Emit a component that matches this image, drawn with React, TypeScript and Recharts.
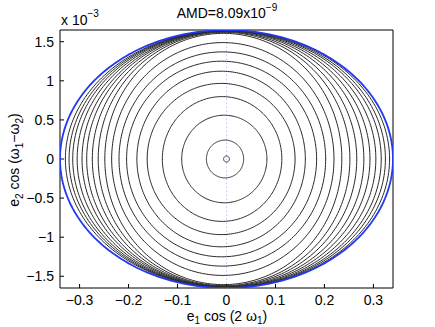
import { ScatterChart, Scatter, XAxis, YAxis, ReferenceLine, Customized } from 'recharts';

const xTicks = [-0.3, -0.2, -0.1, 0, 0.1, 0.2, 0.3];
const yTicks = [-1.5, -1, -0.5, 0, 0.5, 1, 1.5];

// level curves: half-width along e1 cos(2w1), half-height along e2 cos(w1-w2) (x 1e-3), centre shift
const ringA = [0.038, 0.087, 0.122, 0.151, 0.172, 0.194, 0.211, 0.227, 0.242, 0.257, 0.27, 0.283, 0.294, 0.305, 0.315, 0.323, 0.331];
const ringB = [0.242, 0.56, 0.798, 0.967, 1.123, 1.251, 1.37, 1.489, 1.607, 1.62, 1.628, 1.634, 1.638, 1.641, 1.643, 1.645, 1.646];
const ringCx = [-0.003, -0.0045, -0.009, -0.011, -0.011, -0.01, -0.0085, -0.0075, -0.0065, -0.005, -0.004, -0.0025, -0.001, 0, 0.001, 0.0015, 0.002];

// AMD boundary and the fixed point marker
const bound = { a: 0.34, b: 1.65 };
const fixedPt = { a: 0.006, b: 0.038 };

const outline = (cx: number, a: number, b: number) =>
  Array.from({ length: 241 }, (_, i) => {
    const t = (i / 240) * 2 * Math.PI;
    return { x: cx + a * Math.cos(t), y: b * Math.sin(t) };
  });

const fmt = (v: number) => String(v).replace('-', '\u2212');
const font = '"Liberation Sans", Arial, sans-serif';
const noDot = () => <g />;

function Texts() {
  return (
    <g fontFamily={font} fill="#000">
      <text x={227} y={18} fontSize={14} textAnchor="middle">
        <tspan>AMD=8.09x10</tspan>
        <tspan dy={-7} fontSize={10}>{'\u22129'}</tspan>
      </text>
      <text x={61} y={25} fontSize={14}>
        <tspan>x 10</tspan>
        <tspan dy={-8} fontSize={10}>{'\u22123'}</tspan>
      </text>
      <text x={227} y={321} fontSize={14} textAnchor="middle">
        <tspan>e</tspan>
        <tspan dy={3} fontSize={10}>1</tspan>
        <tspan dy={-3}> cos (2 ω</tspan>
        <tspan dy={3} fontSize={10}>1</tspan>
        <tspan dy={-3}>)</tspan>
      </text>
      <text x={19} y={160} fontSize={14} textAnchor="middle" transform="rotate(-90 19 160)">
        <tspan>e</tspan>
        <tspan dy={4} fontSize={10}>2</tspan>
        <tspan dy={-4}> cos (ω</tspan>
        <tspan dy={4} fontSize={10}>1</tspan>
        <tspan dy={-4}>{'\u2212ω'}</tspan>
        <tspan dy={4} fontSize={10}>2</tspan>
        <tspan dy={-4}>)</tspan>
      </text>
    </g>
  );
}

export default function App() {
  const tickStyle = { fontSize: 14, fontFamily: font, fill: '#000' };
  return (
    <div style={{ position: 'absolute', left: 0, top: 0, background: '#fff' }}>
      <ScatterChart width={435} height={327} margin={{ top: 25, right: 37, left: 20, bottom: 9 }}>
        <XAxis
          type="number"
          dataKey="x"
          domain={[-bound.a, bound.a]}
          ticks={xTicks}
          allowDataOverflow
          height={30}
          tickSize={-4}
          tickMargin={11}
          tickFormatter={fmt}
          tick={tickStyle}
          stroke="#000"
        />
        <XAxis
          xAxisId="top"
          orientation="top"
          type="number"
          domain={[-bound.a, bound.a]}
          ticks={xTicks}
          allowDataOverflow
          height={5}
          tickSize={-4}
          tick={false}
          stroke="#000"
        />
        <YAxis
          type="number"
          dataKey="y"
          domain={[-bound.b, bound.b]}
          ticks={yTicks}
          allowDataOverflow
          width={40}
          tickSize={-4}
          tickMargin={10}
          tickFormatter={fmt}
          tick={tickStyle}
          stroke="#000"
        />
        <YAxis
          yAxisId="right"
          orientation="right"
          type="number"
          domain={[-bound.b, bound.b]}
          ticks={yTicks}
          allowDataOverflow
          width={5}
          tickSize={-4}
          tick={false}
          stroke="#000"
        />
        <ReferenceLine x={0} stroke="#c3c9f6" strokeDasharray="1.5 2.5" />
        {ringA.map((a, i) => (
          <Scatter
            key={i}
            data={outline(ringCx[i], a, ringB[i])}
            line={{ stroke: '#2a2a2a', strokeWidth: 1 }}
            shape={noDot}
            legendType="none"
            isAnimationActive={false}
          />
        ))}
        <Scatter
          data={outline(0, fixedPt.a, fixedPt.b)}
          line={{ stroke: '#2a2a2a', strokeWidth: 1 }}
          shape={noDot}
          legendType="none"
          isAnimationActive={false}
        />
        <Scatter
          data={outline(0, bound.a, bound.b)}
          line={{ stroke: '#2338f5', strokeWidth: 1.8 }}
          shape={noDot}
          legendType="none"
          isAnimationActive={false}
        />
        <Customized component={Texts} />
      </ScatterChart>
    </div>
  );
}
